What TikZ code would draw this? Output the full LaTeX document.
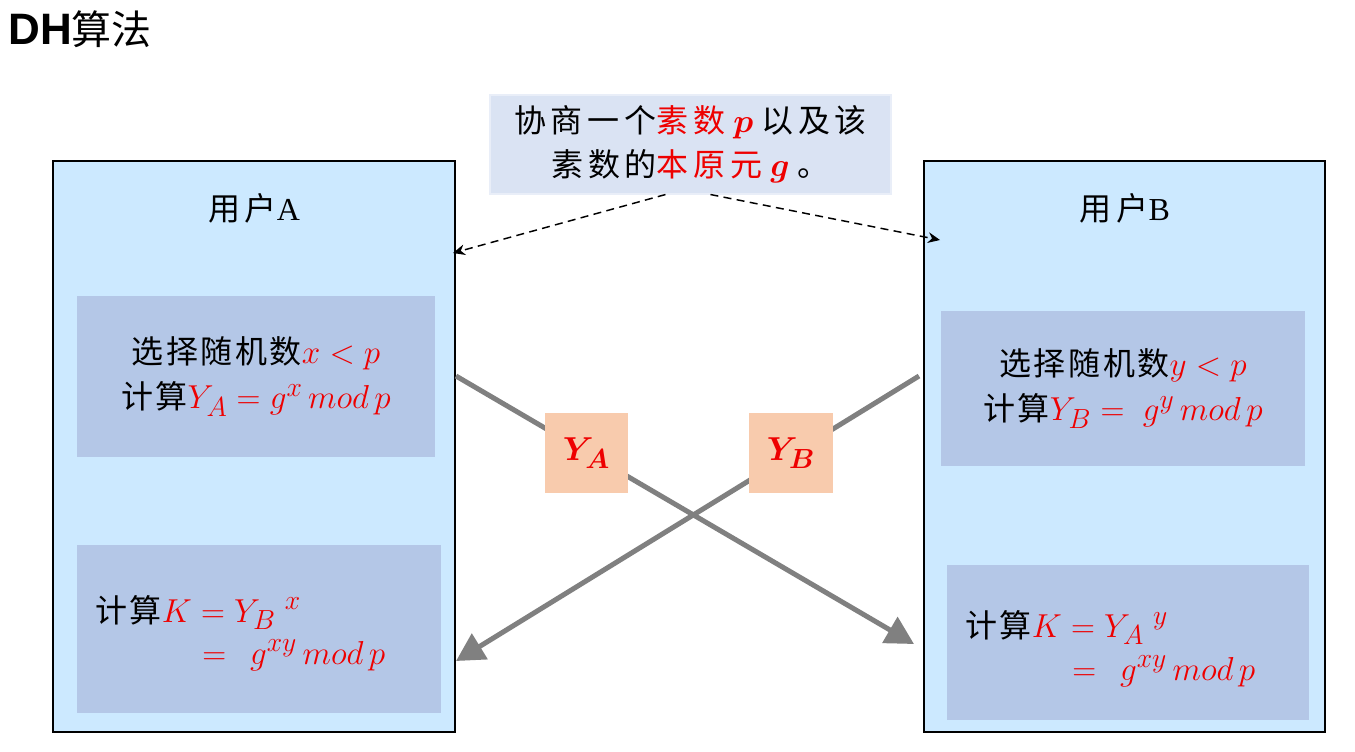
\documentclass[tikz,border=0pt]{standalone}
\usepackage{fontspec}
\usepackage{bm}
\setmainfont{Liberation Serif}
\newfontfamily\cjkA[LetterSpace=15]{Noto Sans CJK SC}
\newfontfamily\cjkB[LetterSpace=8]{Noto Sans CJK SC}
\newfontfamily\cjkT{Noto Sans CJK SC}
\newfontfamily\titlesans{Liberation Sans}
\usetikzlibrary{arrows.meta,calc}
\definecolor{userfill}{HTML}{CCE9FF}
\definecolor{innerfill}{HTML}{B4C7E7}
\definecolor{topfill}{HTML}{DAE3F3}
\definecolor{keyfill}{HTML}{F8CBAD}
\definecolor{mred}{HTML}{EE0000}
\definecolor{arrgray}{HTML}{808080}
\newcommand\mth[1]{{\fontsize{29}{34}\selectfont\color{mred}$#1$}}
\begin{document}
\begin{tikzpicture}[x=0.75pt,y=-0.75pt,
  sz/.style 2 args={minimum width=#1*0.75pt, minimum height=#2*0.75pt},
  userbox/.style={draw=black, line width=1.5pt, fill=userfill, inner sep=0pt},
  innerbox/.style={fill=innerfill, inner sep=0pt, align=center, font=\fontsize{24}{34}\selectfont},
  topbox/.style={fill=topfill, draw=topfill!60!white, line width=0.8pt, inner sep=0pt, align=center, font=\fontsize{24}{33}\selectfont},
  keybox/.style={fill=keyfill, inner sep=0pt},
  plain/.style={inner sep=0pt, font=\fontsize{24}{34}\selectfont},
  grayarrow/.style={draw=arrgray, line width=3.75pt, -{Triangle[length=21pt,width=22pt]}},
  dasharrow/.style={draw=black, line width=1.1pt, dash pattern=on 6pt off 4pt, -{Stealth[length=9pt,width=8pt]}}
]
\useasboundingbox[fill=white] (0,0) rectangle (1355,751);

\node[anchor=base west, inner sep=0pt] (title) at (8,44)
  {{\titlesans\bfseries\fontsize{33}{34}\selectfont DH}{\cjkT\fontsize{30}{34}\selectfont 算法}};

% user boxes
\node[userbox, sz={402}{571}] (A) at (254,446.5) {};
\node[userbox, sz={401}{571}] (B) at (1124.5,446.5) {};
\node[plain] (labA) at (254,208) {{\cjkA 用户}A};
\node[plain] (labB) at (1125,208) {{\cjkA 用户}B};

% top box
\node[topbox, sz={401}{99}] (top) at (690.5,144.5)
  {{\cjkA 协商一个}{\cjkA\color{mred}素数} \mth{\bm{p}} {\cjkA 以及该}\\
   {\cjkA 素数的}{\cjkA\color{mred}本原元} \mth{\bm{g}} {\cjkA 。}};

% inner boxes
\node[innerbox, sz={358}{161}] (A1) at (256,376.5)
  {{\cjkB 选择随机数}\mth{x<p}\\
   {\cjkB 计算}\mth{Y_A=g^x\,mod\,p}};
\node[innerbox, sz={364}{168}] (A2) at (259,629) {};
\node[plain, anchor=base west] (A2a) at (95,622)
  {{\cjkB 计算}\mth{K=Y_B\;{}^{x}}};
\node[plain, anchor=base west] (A2b) at (202,664)
  {\mth{=\;\,g^{xy}\,mod\,p}};

\node[innerbox, sz={364}{155}] (B1) at (1123,388.5)
  {{\cjkB 选择随机数}\mth{y<p}\\
   {\cjkB 计算}\mth{Y_B=\;g^y\,mod\,p}};
\node[innerbox, sz={362}{155}] (B2) at (1128,642.5) {};
\node[plain, anchor=base west] (B2a) at (965,637)
  {{\cjkB 计算}\mth{K=Y_A\;{}^{y}}};
\node[plain, anchor=base west] (B2b) at (1072,680)
  {\mth{=\;\,g^{xy}\,mod\,p}};

% dashed arrows
\draw[dasharrow] ($(top.south west)+(176,0)$) -- ($(A.north east)+(-3,93)$);
\draw[dasharrow] ($(top.south west)+(221,0)$) -- ($(B.north west)+(17,80)$);

% gray arrows
\draw[grayarrow] ($(A.north east)+(0,216)$) -- ($(B.north west)+(-9,484)$);
\draw[grayarrow] ($(B.north west)+(-4,216)$) -- ($(A.north east)+(0,501)$);

% key boxes
\node[keybox, sz={83}{80}] (YA) at (586.5,453)
  {{\fontsize{30}{32}\selectfont\color{mred}$\bm{Y}_{\bm{A}}$}};
\node[keybox, sz={84}{80}] (YB) at (791,453)
  {{\fontsize{30}{32}\selectfont\color{mred}$\bm{Y}_{\bm{B}}$}};
\end{tikzpicture}
\end{document}
